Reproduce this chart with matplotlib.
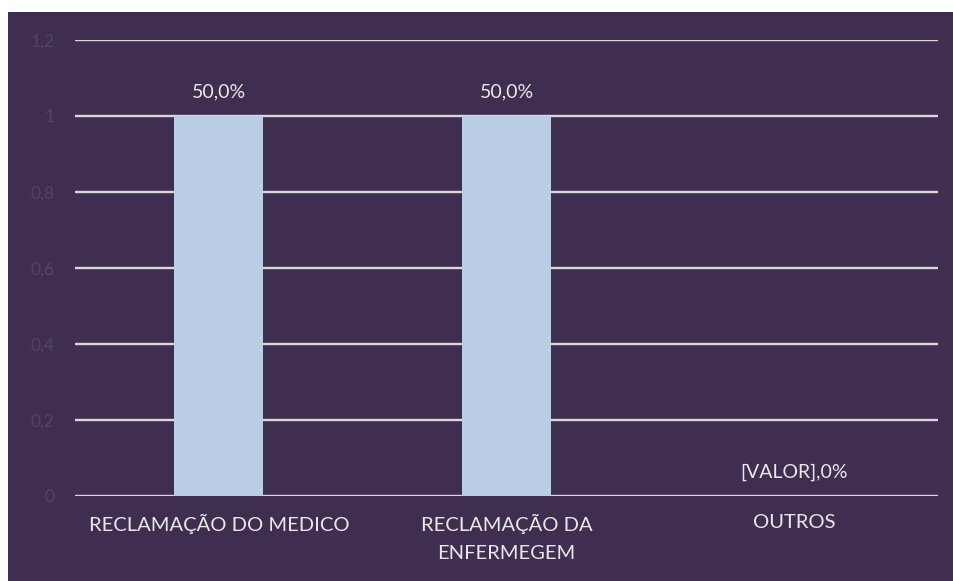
import matplotlib
matplotlib.use("Agg")
import matplotlib.pyplot as plt
from matplotlib.patches import Rectangle

categories = ["RECLAMAÇÃO DO MEDICO", "RECLAMAÇÃO DA\nENFERMEGEM", "OUTROS"]
values = [1, 1, 0]
labels = ["50,0%", "50,0%", "[VALOR],0%"]
yticks = [0, 0.2, 0.4, 0.6, 0.8, 1, 1.2]
ytick_labels = ["0", "0,2", "0,4", "0,6", "0,8", "1", "1,2"]

BG = "#3F2E4F"
BAR = "#B9CDE5"
GRID = "#D9D9D9"
TXT = "#E8E8E8"
TICK = "#52465F"

plt.rcParams['font.family'] = ['Lato', 'DejaVu Sans']

W, H = 954, 581
fig = plt.figure(figsize=(W / 100, H / 100), dpi=100)
fig.patch.set_facecolor("white")
fig.patches.append(Rectangle((8 / W, 0), 1 - 8 / W, (H - 12) / H,
                             transform=fig.transFigure, facecolor=BG,
                             edgecolor="none", zorder=-10))

ax = fig.add_axes([75 / W, (H - 496) / H, (938 - 75) / W, (496 - 40) / H])
ax.set_zorder(1)
ax.set_facecolor("none")
x = list(range(len(categories)))
ax.bar(x, values, width=0.31, color=BAR, zorder=2)
ax.set_xlim(-0.5, len(categories) - 0.5)
ax.set_ylim(0, 1.2)
ax.set_yticks(yticks)
ax.set_yticklabels(ytick_labels, color=TICK, fontsize=12.5)
ax.set_xticks(x)
ax.set_xticklabels(categories, color=TXT, fontsize=14.5, linespacing=1.75)
ax.tick_params(axis="both", length=0)
ax.tick_params(axis="y", pad=15)
ax.tick_params(axis="x", pad=13)
ax.grid(axis="y", color=GRID, linewidth=1.7, zorder=1)
ax.set_axisbelow(True)
for s in ax.spines.values():
    s.set_visible(False)

for xi, v, lab in zip(x, values, labels):
    ax.annotate(lab, (xi, v), xytext=(0, 11), textcoords="offset points",
                ha="center", va="bottom", color=TXT, fontsize=14)

fig.savefig("out.png", dpi=100, facecolor=fig.get_facecolor())
